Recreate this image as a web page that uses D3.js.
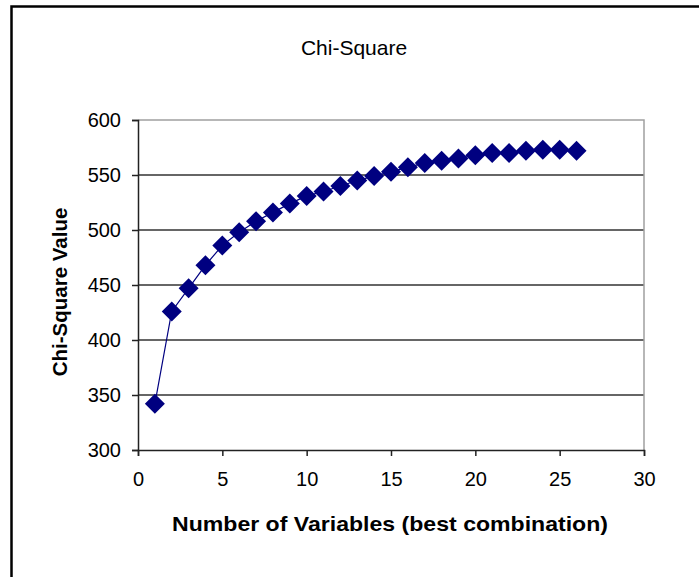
<!DOCTYPE html>
<html>
<head>
<meta charset="utf-8">
<script src="https://cdn.jsdelivr.net/npm/d3@7"></script>
<style>
  body { margin: 0; background: #fff; }
  text { font-family: "Liberation Sans", Arial, sans-serif; }
</style>
</head>
<body>
<div id="chart"></div>
<script>
// Chi-square value vs number of variables

var width = 699;
var height = 577;

// data
var numVariables = [1, 2, 3, 4, 5, 6, 7, 8, 9, 10, 11, 12, 13, 14, 15, 16, 17, 18, 19, 20, 21, 22, 23, 24, 25, 26];
var chiSquare = [342, 426, 447, 468, 486, 498, 508, 516, 524, 531, 535, 540, 545, 549, 553, 557, 561, 563, 565, 568, 570, 570, 572, 573, 573, 572];
var xTicks = [0, 5, 10, 15, 20, 25, 30];
var yTicks = [300, 350, 400, 450, 500, 550, 600];

var plot = { left: 138, right: 644, top: 120, bottom: 450 };

var svg = d3.select("#chart")
            .append("svg")
            .attr("width", width)
            .attr("height", height);

// outer frame
svg.append("rect")
   .attr("x", 11.5).attr("y", 6.5)
   .attr("width", 700).attr("height", 600)
   .attr("fill", "none")
   .attr("stroke", "#000")
   .attr("stroke-width", 2.5);

var x = d3.scaleLinear().domain([0, 30]).range([plot.left, plot.right]);
var y = d3.scaleLinear().domain([300, 600]).range([plot.bottom, plot.top]);

// gridlines
svg.append("g")
   .selectAll("line")
   .data(yTicks.filter(function(d) { return d > 300 && d < 600; }))
   .enter()
   .append("line")
   .attr("x1", plot.left).attr("x2", plot.right)
   .attr("y1", function(d) { return y(d); })
   .attr("y2", function(d) { return y(d); })
   .attr("stroke", "#333")
   .attr("stroke-width", 1.5);

// plot area top/right edges
svg.append("path")
   .attr("d", "M" + plot.left + "," + y(600) + "H" + plot.right + "V" + plot.bottom)
   .attr("fill", "none")
   .attr("stroke", "#a0a0a0")
   .attr("stroke-width", 1.5);

// axes
var yAxis = svg.append("g")
   .attr("transform", "translate(" + plot.left + ",0)")
   .call(d3.axisLeft(y).tickValues(yTicks).tickSize(6).tickPadding(11));
var xAxis = svg.append("g")
   .attr("transform", "translate(0," + plot.bottom + ")")
   .call(d3.axisBottom(x).tickValues(xTicks).tickSize(6).tickPadding(16));

[xAxis, yAxis].forEach(function(ax) {
  ax.select(".domain").attr("stroke", "#222").attr("stroke-width", 1.5);
  ax.selectAll(".tick line").attr("stroke", "#222").attr("stroke-width", 1.5);
  ax.selectAll(".tick text")
    .attr("fill", "#000")
    .style("font-size", "20px")
    .style("font-family", "'Liberation Sans', Arial, sans-serif");
});

// series line
var line = d3.line()
  .x(function(d, i) { return x(numVariables[i]); })
  .y(function(d) { return y(d); });

svg.append("path")
   .datum(chiSquare)
   .attr("d", line)
   .attr("fill", "none")
   .attr("stroke", "#000080")
   .attr("stroke-width", 1.2);

// diamond markers
svg.append("g")
   .selectAll("path")
   .data(chiSquare)
   .enter()
   .append("path")
   .attr("transform", function(d, i) { return "translate(" + x(numVariables[i]) + "," + y(d) + ")"; })
   .attr("d", "M0,-10L10,0L0,10L-10,0Z")
   .attr("fill", "#000080");

// title and labels
svg.append("text")
   .attr("x", 354).attr("y", 55)
   .attr("text-anchor", "middle")
   .style("font-size", "21px")
   .text("Chi-Square");

svg.append("text")
   .attr("x", 390).attr("y", 531)
   .attr("text-anchor", "middle")
   .attr("textLength", 436)
   .attr("lengthAdjust", "spacingAndGlyphs")
   .style("font-size", "21px")
   .style("font-weight", "bold")
   .text("Number of Variables (best combination)");

svg.append("text")
   .attr("transform", "translate(67,292) rotate(-90)")
   .attr("text-anchor", "middle")
   .style("font-size", "20.5px")
   .style("font-weight", "bold")
   .text("Chi-Square Value");
</script>
</body>
</html>
